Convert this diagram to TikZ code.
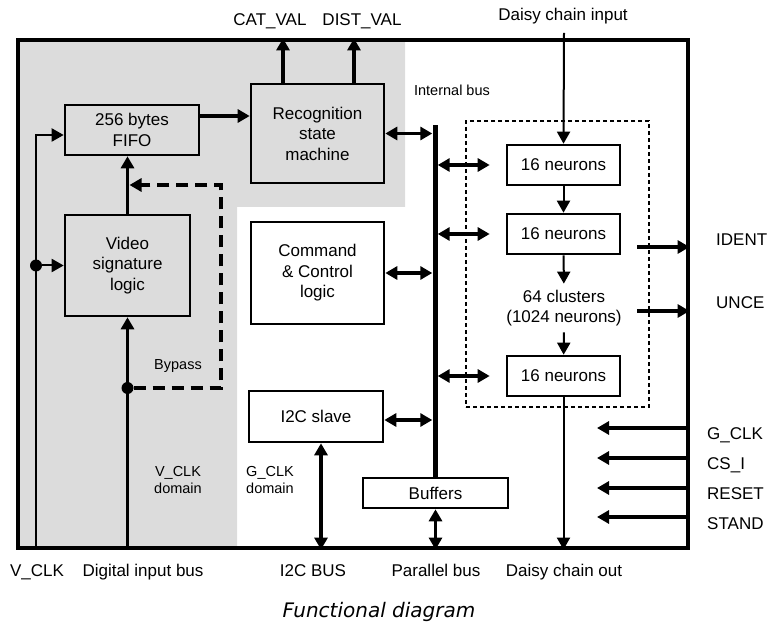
\documentclass[tikz,border=0pt]{standalone}
\usepackage{fontspec}
\setmainfont{Liberation Sans}
\newfontfamily\titlefont{DejaVu Sans}
\usepackage{xcolor}
\usetikzlibrary{arrows.meta}

\definecolor{vgray}{HTML}{DCDCDC}
\newcommand\mainfs{\fontsize{17}{20.5}\selectfont}
\newcommand\smallfs{\fontsize{14.5}{17}\selectfont}

\begin{document}
\begin{tikzpicture}[x=1pt,y=-1pt,
  >={Triangle[length=12pt,width=13pt]},
  blk/.style={draw,line width=2.6pt,inner sep=0pt,align=center,font=\mainfs},
  frm/.style={draw,line width=3.2pt,inner sep=0pt,minimum width=670pt,minimum height=508pt},
  lbl/.style={font=\mainfs,align=center,inner sep=0pt},
  small/.style={font=\smallfs,align=center,inner sep=0pt},
  dot/.style={circle,fill,inner sep=0pt,minimum size=12pt},
  thk/.style={line width=3.6pt},
  thn/.style={line width=2pt}]
\useasboundingbox (0,0) rectangle (782,628);

% V_CLK domain
\fill[vgray] (20,40) -- (405,40) -- (405,207) -- (237,207) -- (237,548) -- (20,548) -- cycle;
\node[frm] (F) at (353,294) {};

\node[blk,fill=vgray,minimum width=134pt,minimum height=50pt]  (FIFO) at (132,130)     {256 bytes\\FIFO};
\node[blk,fill=vgray,minimum width=133pt,minimum height=99pt]  (RSM)  at (317.5,133.5) {Recognition\\state\\machine};
\node[blk,fill=vgray,minimum width=125pt,minimum height=101pt] (VSL)  at (127.5,265.5) {Video\\signature\\logic};
\node[blk,minimum width=133pt,minimum height=102pt] (CCL) at (317.5,273)  {Command\\\& Control\\logic};
\node[blk,minimum width=134pt,minimum height=51pt]  (I2C) at (316,416.5)  {I2C slave};
\node[blk,minimum width=145pt,minimum height=30pt]  (BUF) at (435.5,493)  {Buffers};

% internal bus
\node[fill,inner sep=0pt,minimum width=5pt,minimum height=353pt] (BUS) at (435,301.5) {};
\node[small] (IB) at (452,90) {Internal bus};

% neurons
\node[draw,line width=1.2pt,dash pattern=on 4pt off 3pt,minimum width=183pt,minimum height=286pt] (CLB) at (557.5,264) {};
\node[blk,minimum width=113pt,minimum height=40pt] (N1) at (563.5,165) {16 neurons};
\node[blk,minimum width=113pt,minimum height=40pt] (N2) at (563.5,234) {16 neurons};
\node[blk,minimum width=113pt,minimum height=40pt] (N3) at (563.5,376) {16 neurons};
\node[lbl,inner sep=6pt] (CL) at (564,308) {64 clusters\\(1024 neurons)};

% top outputs
\node[lbl,anchor=base] (CAT) at (270,26) {CAT\_VAL};
\node[lbl,anchor=base] (DIST) at (362,26) {DIST\_VAL};
\coordinate (cv) at (283,0);
\coordinate (dv) at (354,0);
\draw[thk,->] (RSM.north -| cv) -- (F.north -| cv);
\draw[thk,->] (RSM.north -| dv) -- (F.north -| dv);

\draw[thk,->] ([yshift=14pt]FIFO.east) -- ([yshift=14pt]FIFO.east -| RSM.west);

% video input side
\coordinate (vclk) at (36,548);
\coordinate (dib) at (127.5,548);
\node[dot] (D1) at (vclk |- VSL.west) {};
\node[dot] (D2) at (127.5,388) {};
\draw[thn,->] (vclk) |- ([yshift=-5pt]FIFO.west);
\draw[thn,->] (D1) -- (VSL.west);
\draw[thk,->] (VSL.north) -- (VSL.north |- FIFO.south);
\draw[thk,->] (dib) -- (VSL.south);
\coordinate (bp) at (221,185);
\draw[thk,dash pattern=on 12pt off 7pt,->,shorten >=2pt] (D2) -| (bp) -- (bp -| VSL.north);
\node[small] (BPL) at (178,366) {Bypass};
\node[small] (VD) at (178,480) {V\_CLK\\domain};
\node[small] (GD) at (270,480) {G\_CLK\\domain};

% bus links
\draw[thk,<->] (RSM.east) -- (RSM.east -| BUS.west);
\draw[thk,<->] (CCL.east) -- (CCL.east -| BUS.west);
\draw[thk,<->] ([yshift=-3.5pt]I2C.east) -- ([yshift=-3.5pt]I2C.east -| BUS.west);
\draw[thk,<->] (N1.west -| BUS.east) -- ([xshift=-16pt]N1.west);
\draw[thk,<->] (N2.west -| BUS.east) -- ([xshift=-16pt]N2.west);
\draw[thk,<->] (N3.west -| BUS.east) -- ([xshift=-16pt]N3.west);
\draw[thk,<->] ([xshift=5pt]I2C.south) -- ([xshift=5pt]I2C.south |- F.south);
\draw[thk,<->] (BUF.south) -- (BUF.south |- F.south);

% daisy chain
\coordinate (dci) at (564,33);
\node[lbl,anchor=base] (DCI) at (563,21) {Daisy chain input};
\draw[thn,->] (dci) -- (N1.north);
\draw[thn,->] (N1) -- (N2);
\draw[thn,->] (N2) -- (CL);
\draw[thn,->] (CL) -- (N3);
\draw[thn,->] (N3.south) -- (N3.south |- F.south);

% right side signals
\coordinate (ido) at (637,247);
\coordinate (uno) at (637,311);
\coordinate (gck) at (597,428);
\coordinate (csi) at (597,458);
\coordinate (rst) at (597,488);
\coordinate (stb) at (597,517);
\draw[thk,->] (ido) -- (ido -| F.east);
\draw[thk,->] (uno) -- (uno -| F.east);
\draw[thk,->] (gck -| F.east) -- (gck);
\draw[thk,->] (csi -| F.east) -- (csi);
\draw[thk,->] (rst -| F.east) -- (rst);
\draw[thk,->] (stb -| F.east) -- (stb);
\node[lbl,anchor=base west] (IDENT) at (716,246) {IDENT};
\node[lbl,anchor=base west] (UNCE)  at (716,309) {UNCE};
\node[lbl,anchor=base west] (GCLK)  at (707,439) {G\_CLK};
\node[lbl,anchor=base west] (CSI)   at (707,469) {CS\_I};
\node[lbl,anchor=base west] (RST)   at (707,499) {RESET};
\node[lbl,anchor=base west] (STB)   at (707,529) {STAND};

% bottom labels
\node[lbl,anchor=base] (VCL) at (37,576)  {V\_CLK};
\node[lbl,anchor=base] (DIL) at (143,576) {Digital input bus};
\node[lbl,anchor=base] (I2L) at (313,576) {I2C BUS};
\node[lbl,anchor=base] (PBL) at (436,576) {Parallel bus};
\node[lbl,anchor=base] (DCO) at (564,576) {Daisy chain out};

\node[font=\titlefont\itshape\fontsize{20}{24}\selectfont] (T) at (379,612) {Functional diagram};
\end{tikzpicture}
\end{document}
